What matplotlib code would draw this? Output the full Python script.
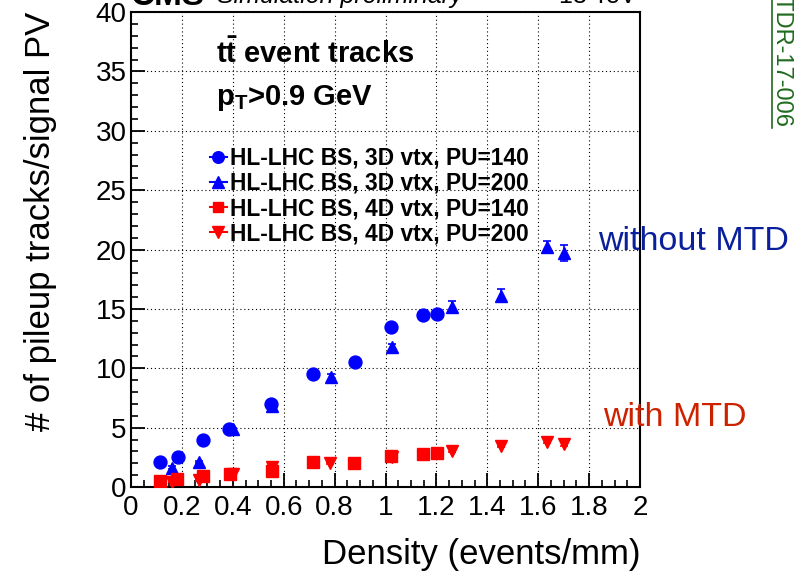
import matplotlib
matplotlib.use("Agg")
import matplotlib.pyplot as plt
from matplotlib.lines import Line2D
from matplotlib.ticker import MultipleLocator

plt.rcParams['font.family'] = ['Liberation Sans', 'DejaVu Sans']
plt.rcParams['mathtext.fontset'] = 'custom'
plt.rcParams['mathtext.rm'] = 'Liberation Sans'
plt.rcParams['mathtext.bf'] = 'Liberation Sans:bold'
plt.rcParams['mathtext.it'] = 'Liberation Sans:italic'

# 3D vertexing (no MTD)
dens_3d_140 = [0.114, 0.186, 0.284, 0.385, 0.55, 0.714, 0.879, 1.02, 1.146, 1.201]
pu_3d_140 = [2.13, 2.5, 3.96, 4.86, 6.96, 9.54, 10.5, 13.47, 14.48, 14.6]
err_3d_140 = [0.1, 0.1, 0.15, 0.15, 0.2, 0.25, 0.25, 0.3, 0.3, 0.3]

dens_3d_200 = [0.16, 0.267, 0.402, 0.553, 0.785, 1.024, 1.26, 1.454, 1.633, 1.70]
pu_3d_200 = [1.63, 2.13, 4.86, 6.85, 9.23, 11.76, 15.18, 16.1, 20.2, 19.7]
err_3d_200 = [0.1, 0.1, 0.15, 0.2, 0.25, 0.3, 0.5, 0.55, 0.5, 0.7]

# 4D vertexing (with MTD)
dens_4d_140 = [0.114, 0.182, 0.284, 0.389, 0.553, 0.714, 0.878, 1.022, 1.146, 1.201]
pu_4d_140 = [0.5, 0.65, 0.93, 1.1, 1.38, 2.1, 1.99, 2.6, 2.75, 2.89]
err_4d_140 = [0.05, 0.05, 0.05, 0.05, 0.08, 0.08, 0.08, 0.1, 0.1, 0.1]

dens_4d_200 = [0.16, 0.267, 0.40, 0.553, 0.783, 1.024, 1.26, 1.454, 1.633, 1.70]
pu_4d_200 = [0.45, 0.59, 1.1, 1.71, 1.99, 2.5, 3.06, 3.45, 3.82, 3.62]
err_4d_200 = [0.05, 0.05, 0.05, 0.08, 0.08, 0.1, 0.1, 0.12, 0.12, 0.15]

labels = ['HL-LHC BS, 3D vtx, PU=140', 'HL-LHC BS, 3D vtx, PU=200',
          'HL-LHC BS, 4D vtx, PU=140', 'HL-LHC BS, 4D vtx, PU=200']

fig = plt.figure(figsize=(7.98, 5.76), dpi=100)
ax = fig.add_axes([131/798, 89/576, 509/798, 475/576])

series = [
    (dens_3d_140, pu_3d_140, err_3d_140, 'o', '#0000ff', 9.3),
    (dens_3d_200, pu_3d_200, err_3d_200, '^', '#0000ff', 9.3),
    (dens_4d_140, pu_4d_140, err_4d_140, 's', '#ff0000', 8.7),
    (dens_4d_200, pu_4d_200, err_4d_200, 'v', '#ff0000', 9.3),
]
handles = []
for x, y, e, m, c, ms in series:
    ax.errorbar(x, y, yerr=e, fmt=m, color=c, ms=ms, mec=c, elinewidth=1.2,
                capsize=3, capthick=1.2, zorder=3)
    handles.append(Line2D([], [], color=c, marker=m, ms=ms * 0.9, lw=1.5))

ax.set_xlim(0, 2)
ax.set_ylim(0, 40)
ax.xaxis.set_major_locator(MultipleLocator(0.2))
ax.xaxis.set_minor_locator(MultipleLocator(0.05))
ax.yaxis.set_major_locator(MultipleLocator(5))
ax.yaxis.set_minor_locator(MultipleLocator(1))
ax.xaxis.set_major_formatter(plt.FuncFormatter(lambda v, p: f'{v:g}'))
ax.tick_params(which='both', direction='in', top=False, right=False, labelsize=20)
ax.tick_params(axis='x', which='major', length=10, width=1.3, pad=6)
ax.tick_params(axis='y', which='major', length=10, width=1.3, pad=3)
ax.tick_params(which='minor', length=5, width=1.2)
for s in ax.spines.values():
    s.set_linewidth(1.5)
ax.grid(True, which='major', color='black', linestyle=(0, (1, 2.5)), linewidth=0.8)
ax.set_axisbelow(True)

ax.set_xlabel('Density (events/mm)', fontsize=25, loc='right', labelpad=12)
ax.set_ylabel('# of pileup tracks/signal PV', fontsize=25, loc='top', labelpad=28)

ax.text(0.167, 0.893, r'$\mathbf{t\bar{t}}$ event tracks', transform=ax.transAxes,
        fontsize=21, fontweight='bold', va='baseline', ha='left')
ax.text(0.167, 0.804, r'$\mathbf{p_{T}}$>0.9 GeV', transform=ax.transAxes,
        fontsize=21, fontweight='bold', va='baseline', ha='left')

ax.legend(handles, labels, loc='upper left', bbox_to_anchor=(0.155, 0.716),
          frameon=False, borderpad=0, borderaxespad=0, handlelength=0.75,
          handletextpad=0.15, labelspacing=0.09,
          prop={'weight': 'bold', 'size': 16.4})

fig.text(598/798, 1 - 241/576, 'without MTD', color='#0a1f9c', fontsize=24.5,
         ha='left', va='center')
fig.text(603/798, 1 - 418/576, 'with MTD', color='#cc2200', fontsize=24.5,
         ha='left', va='center')

# header, clipped by the top edge like in the original
fig.text(131/798, 1 - 5/576, 'CMS', fontsize=24, fontweight='bold', va='baseline')
fig.text(217/798, 1 - 3/576, 'Simulation preliminary', fontsize=18,
         style='italic', va='baseline')
fig.text(636/798, 1 - 3/576, '13 TeV', fontsize=18, ha='right', va='baseline')

# rotated, underlined document tag on the right
fig.text(770/798, 1 - 128/576, 'CMS-TDR-17-006', color='#1f6b1f', fontsize=17,
         rotation=-90, ha='left', va='bottom')
fig.add_artist(Line2D([772/798, 772/798], [1 - 128/576, 1.0], color='#1f6b1f',
                      lw=1.2, transform=fig.transFigure))

fig.savefig('out.png', dpi=100)
